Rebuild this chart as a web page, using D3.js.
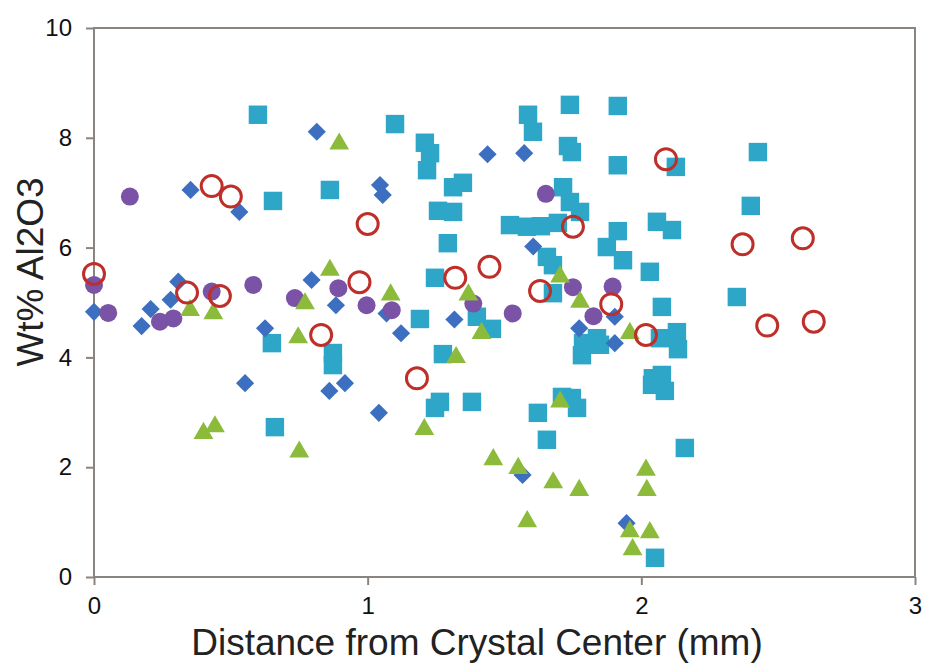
<!doctype html>
<html>
<head>
<meta charset="utf-8">
<title>Wt% Al2O3 vs distance</title>
<script src="https://cdnjs.cloudflare.com/ajax/libs/d3/7.8.5/d3.min.js"></script>
<style>
  body { margin: 0; background: #fff; }
  svg { display: block; font-family: "Liberation Sans", Arial, sans-serif; }
  .frame { fill: none; stroke: #8a8480; stroke-width: 2; }
  .axis path, .axis line { stroke: #8a8480; stroke-width: 2; }
  .axis text { font-size: 24px; fill: #111; }
  .title { font-size: 37px; fill: #222; }
</style>
</head>
<body>
<svg width="932" height="667"></svg>
<script>
// [distance mm, wt% Al2O3]
var squares = [
  [0.599, 8.42], [0.654, 6.85], [0.650, 4.26], [0.661, 2.73], [0.862, 7.05],
  [0.873, 4.08], [0.873, 3.86], [1.100, 8.25], [1.209, 7.91], [1.228, 7.72],
  [1.217, 7.41], [1.312, 7.10], [1.348, 7.18], [1.257, 6.67], [1.312, 6.65],
  [1.293, 6.08], [1.246, 5.45], [1.191, 4.70], [1.399, 4.74], [1.454, 4.52],
  [1.275, 4.06], [1.264, 3.19], [1.246, 3.08], [1.381, 3.19], [1.586, 8.42],
  [1.604, 8.11], [1.739, 8.60], [1.732, 7.85], [1.746, 7.74], [1.914, 8.58],
  [1.914, 7.50], [2.126, 7.47], [2.426, 7.74], [2.400, 6.76], [2.349, 5.10],
  [1.714, 7.10], [1.739, 6.83], [1.776, 6.65], [1.520, 6.41], [1.582, 6.38],
  [1.633, 6.39], [1.695, 6.45], [1.655, 5.83], [1.677, 5.68], [1.677, 5.17],
  [1.874, 6.01], [1.914, 6.30], [1.933, 5.77], [2.057, 6.47], [2.112, 6.32],
  [2.031, 5.56], [2.075, 4.92], [2.130, 4.46], [2.134, 4.15], [2.068, 4.35],
  [2.042, 3.62], [2.075, 3.68], [2.039, 3.50], [2.086, 3.39], [2.159, 2.35],
  [2.050, 0.35], [1.710, 3.28], [1.746, 3.26], [1.765, 3.08], [1.622, 2.99],
  [1.655, 2.50], [1.787, 4.26], [1.838, 4.35], [1.783, 4.04], [1.849, 4.23]
];
var diamonds = [
  [0.000, 4.83], [0.174, 4.57], [0.207, 4.88], [0.280, 5.05], [0.308, 5.38],
  [0.353, 7.05], [0.531, 6.65], [0.625, 4.53], [0.795, 5.41], [0.552, 3.53],
  [0.814, 8.11], [1.045, 7.14], [1.055, 6.96], [0.884, 4.95], [1.069, 4.80],
  [1.122, 4.44], [1.317, 4.69], [1.438, 7.70], [1.572, 7.72], [1.605, 6.02],
  [0.860, 3.39], [0.917, 3.53], [1.041, 2.99], [1.773, 4.53], [1.903, 4.26],
  [1.566, 1.86], [1.946, 0.98], [1.903, 4.74]
];
var dots = [
  [0.131, 6.93], [0.000, 5.32], [0.052, 4.81], [0.241, 4.65], [0.290, 4.71],
  [0.430, 5.20], [0.582, 5.32], [0.734, 5.08], [0.893, 5.26], [0.996, 4.95],
  [1.088, 4.86], [1.386, 4.98], [1.530, 4.80], [1.651, 6.98], [1.750, 5.28],
  [1.895, 5.29], [1.825, 4.75]
];
var triangles = [
  [0.351, 4.86], [0.436, 4.80], [0.771, 4.98], [0.862, 5.59], [0.746, 4.36],
  [0.400, 2.62], [0.442, 2.74], [0.750, 2.28], [0.896, 7.89], [1.084, 5.14],
  [1.368, 5.14], [1.323, 4.00], [1.416, 4.44], [1.207, 2.69], [1.459, 2.14],
  [1.550, 1.98], [1.678, 1.72], [1.773, 1.58], [1.583, 1.01], [1.703, 3.19],
  [1.776, 5.01], [1.703, 5.47], [2.017, 1.95], [2.020, 1.58], [1.958, 0.83],
  [2.031, 0.81], [1.968, 0.50], [1.958, 4.44]
];
var rings = [
  [0.000, 5.52], [0.340, 5.18], [0.430, 7.12], [0.500, 6.93], [0.460, 5.12],
  [0.830, 4.41], [1.000, 6.43], [0.970, 5.37], [1.180, 3.62], [1.320, 5.45],
  [1.445, 5.65], [1.630, 5.21], [1.750, 6.38], [1.890, 4.97], [2.017, 4.41],
  [2.090, 7.61], [2.370, 6.06], [2.590, 6.17], [2.460, 4.58], [2.630, 4.65]
];
var xTicks = [0, 1, 2, 3];
var yTicks = [0, 2, 4, 6, 8, 10];

var svg = d3.select("svg");
var plotLeft = 94, plotRight = 915, plotTop = 28, plotBottom = 577;

var x = d3.scaleLinear().domain([0, 3]).range([plotLeft, plotRight]);
var y = d3.scaleLinear().domain([0, 10]).range([plotBottom, plotTop]);

svg.append("g")
  .attr("class", "axis")
  .attr("transform", "translate(0," + plotBottom + ")")
  .call(d3.axisBottom(x).tickValues(xTicks).tickSize(8).tickPadding(12).tickFormat(d3.format("d")));

svg.append("g")
  .attr("class", "axis")
  .attr("transform", "translate(" + plotLeft + ",0)")
  .call(d3.axisLeft(y).tickValues(yTicks).tickSize(8).tickPadding(14).tickFormat(d3.format("d")));

svg.selectAll(".axis .domain").remove();

svg.append("rect")
  .attr("class", "frame")
  .attr("x", plotLeft).attr("y", plotTop)
  .attr("width", plotRight - plotLeft).attr("height", plotBottom - plotTop);

var plot = svg.append("g");

plot.selectAll("path.sq").data(squares).enter()
  .append("path")
    .attr("class", "sq")
    .attr("d", d3.symbol().type(d3.symbolSquare).size(340))
    .attr("transform", d => "translate(" + x(d[0]) + "," + y(d[1]) + ")")
    .attr("fill", "#2ea6c8");

plot.selectAll("path.dm").data(diamonds).enter()
  .append("path")
    .attr("class", "dm")
    .attr("d", d3.symbol().type(d3.symbolSquare).size(165))
    .attr("transform", d => "translate(" + x(d[0]) + "," + y(d[1]) + ") rotate(45)")
    .attr("fill", "#3d6fc0");

plot.selectAll("circle.dot").data(dots).enter()
  .append("circle")
    .attr("class", "dot")
    .attr("r", 9)
    .attr("cx", d => x(d[0]))
    .attr("cy", d => y(d[1]))
    .attr("fill", "#7a52a6");

plot.selectAll("path.tri").data(triangles).enter()
  .append("path")
    .attr("class", "tri")
    .attr("d", d3.symbol().type(d3.symbolTriangle).size(170))
    .attr("transform", d => "translate(" + x(d[0]) + "," + y(d[1]) + ")")
    .attr("fill", "#8cbb3c");

plot.selectAll("circle.ring").data(rings).enter()
  .append("circle")
    .attr("class", "ring")
    .attr("r", 10.5)
    .attr("cx", d => x(d[0]))
    .attr("cy", d => y(d[1]))
    .attr("fill", "none")
    .attr("stroke", "#be2f2a")
    .attr("stroke-width", 3);

svg.append("text")
  .attr("class", "title")
  .attr("x", 477).attr("y", 655)
  .attr("text-anchor", "middle")
  .text("Distance from Crystal Center (mm)");

svg.append("text")
  .attr("class", "title")
  .attr("transform", "translate(43,272) rotate(-90)")
  .attr("text-anchor", "middle")
  .text("Wt% Al2O3");
</script>
</body>
</html>
